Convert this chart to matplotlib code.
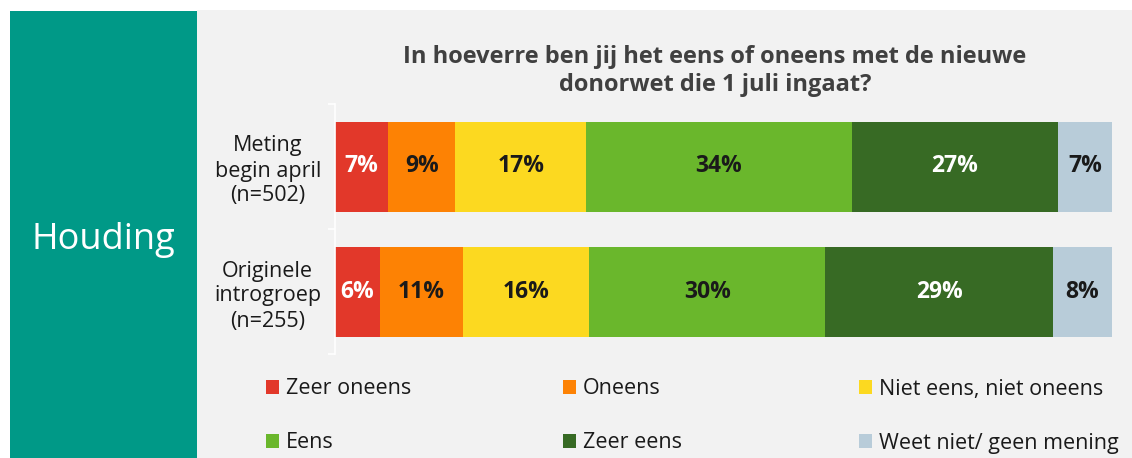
import matplotlib
matplotlib.use("Agg")
import matplotlib.pyplot as plt
from matplotlib.patches import Rectangle, Patch
import numpy as np

W, H = 1132, 458
plt.rcParams['font.family'] = ['Open Sans', 'DejaVu Sans']

groups = ["Meting\nbegin april\n(n=502)", "Originele\nintrogroep\n(n=255)"]
categories = ["Zeer oneens", "Oneens", "Niet eens, niet oneens",
              "Eens", "Zeer eens", "Weet niet/ geen mening"]
values_april = [6.8, 8.7, 16.8, 34.2, 26.6, 6.9]
values_intro = [5.8, 10.7, 16.2, 30.4, 29.3, 7.6]
labels_april = ["7%", "9%", "17%", "34%", "27%", "7%"]
labels_intro = ["6%", "11%", "16%", "30%", "29%", "8%"]
colors = ["#e2382a", "#fd8204", "#fcd920", "#6ab72c", "#376a24", "#b8ccd9"]
label_colors = ["white", "#1a1a1a", "#1a1a1a", "#1a1a1a", "white", "#1a1a1a"]
title = "In hoeverre ben jij het eens of oneens met de nieuwe\ndonorwet die 1 juli ingaat?"

fig = plt.figure(figsize=(W / 100, H / 100), dpi=100)
fig.patch.set_facecolor("white")
# panels
fig.patches.append(Rectangle((197 / W, 0), 1 - 197 / W, 1 - 10 / H,
                             transform=fig.transFigure, facecolor="#f2f2f2",
                             edgecolor="none", zorder=-10))
fig.patches.append(Rectangle((10 / W, 0), 187 / W, 1 - 11 / H,
                             transform=fig.transFigure, facecolor="#009987",
                             edgecolor="none", zorder=-9))
fig.text(103 / W, 1 - 240 / H, "Houding", color="white", fontsize=26,
         ha="center", va="center")
fig.text(715 / W, 1 - 71 / H, title, color="#404040", fontsize=17,
         fontweight="bold", ha="center", va="center", linespacing=1.25)

ax = fig.add_axes([335 / W, 1 - 354 / H, 777 / W, 250 / H])
ax.set_facecolor("none")
rows = [values_april, values_intro]
row_labels = [labels_april, labels_intro]
ypos = np.arange(len(groups))
for r, (vals, labs) in enumerate(zip(rows, row_labels)):
    left = 0.0
    for i, v in enumerate(vals):
        ax.barh(ypos[r], v, left=left, height=0.72, color=colors[i],
                edgecolor="none")
        ax.text(left + v / 2, ypos[r], labs[i], ha="center", va="center",
                color=label_colors[i], fontsize=16.5, fontweight="bold")
        left += v

ax.set_xlim(0, 100)
ax.set_ylim(1.5, -0.5)
ax.set_xticks([])
for s in ["top", "right", "bottom"]:
    ax.spines[s].set_visible(False)
ax.spines["left"].set_color("white")
ax.spines["left"].set_linewidth(1.2)
ax.set_yticks(ypos)
ax.set_yticklabels(groups, fontsize=15.5, color="#1a1a1a",
                   multialignment="center", linespacing=1.25)
ax.tick_params(axis="y", which="major", length=0, pad=10)
ax.set_yticks([-0.5, 0.5, 1.5], minor=True)
ax.tick_params(axis="y", which="minor", length=5, color="white", width=1.2)

# legend
leg_pos = [(271, 389), (568, 389), (864, 389), (271, 443), (568, 443), (864, 443)]
for cat, col, (x, y) in zip(categories, colors, leg_pos):
    fig.legend(handles=[Patch(facecolor=col, edgecolor="none")], labels=[cat],
               loc="center left", bbox_to_anchor=(x / W - 0.004, 1 - y / H),
               frameon=False, fontsize=15.5, handlelength=0.6, handleheight=0.6,
               handletextpad=0.3, borderpad=0, borderaxespad=0,
               labelcolor="#1a1a1a")

fig.savefig("out.png", dpi=100, facecolor=fig.get_facecolor())
